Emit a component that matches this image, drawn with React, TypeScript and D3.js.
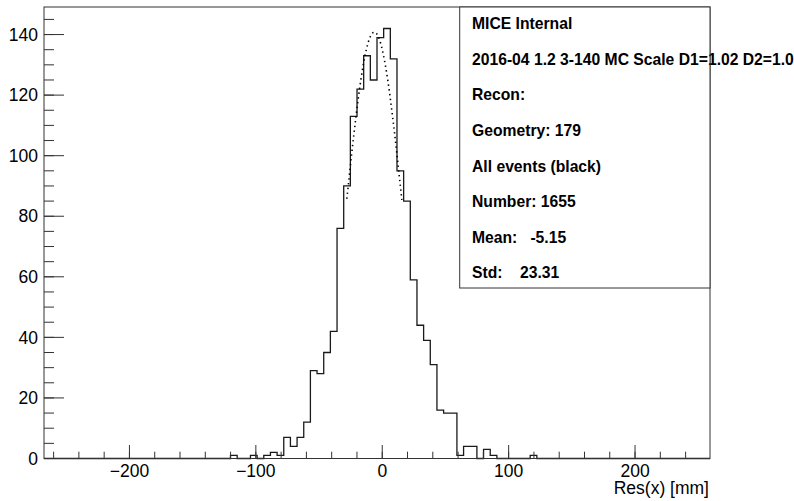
import React from "react";
import * as d3 from "d3";

// ---- data ----
const X_MIN = -267.6;
const X_MAX = 259.3;
const N_BINS = 100;
// bin counts (index 0..99)
const counts: number[] = [
  0, 0, 0, 0, 0, 0, 0, 0, 0, 0,
  0, 0, 0, 0, 0, 0, 0, 0, 0, 0,
  0, 0, 0, 0, 0, 0, 0, 0, 1, 0,
  0, 1, 0, 1, 2, 1, 7, 4, 7, 12,
  29, 28, 35, 42, 76, 90, 113, 122, 133, 125,
  139, 142, 132, 95, 85, 59, 44, 39, 31, 16,
  15, 15, 1, 4, 4, 0, 3, 1, 0, 0,
  0, 0, 0, 1, 0, 0, 0, 0, 0, 0,
  0, 0, 0, 0, 0, 0, 0, 0, 0, 0,
  0, 0, 0, 0, 0, 0, 0, 0, 0, 0,
];
const Y_MAX = 149.1;
const xMajorTicks = [-200, -100, 0, 100, 200];
const yMajorTicks = [0, 20, 40, 60, 80, 100, 120, 140];
// Gaussian fit drawn as dotted line
const FIT_AMP = 140.8;
const FIT_MEAN = -6.3;
const FIT_SIGMA = 21.8;
const FIT_RANGE = [-28, 15.5];
const statLines = [
  "MICE Internal",
  "2016-04 1.2 3-140 MC Scale D1=1.02 D2=1.02",
  "Recon:",
  "Geometry: 179",
  "All events (black)",
  "Number: 1655",
  "Mean:   -5.15",
  "Std:    23.31",
];
const xTitle = "Res(x) [mm]";

const W = 794;
const H = 501;
const FL = 44, FR = 710, FT = 7, FB = 458.5;
const FONT = "'Liberation Sans', Arial, Helvetica, sans-serif";
const AX = "#333";

export default function App() {
  const x = d3.scaleLinear().domain([X_MIN, X_MAX]).range([FL, FR]);
  const y = d3.scaleLinear().domain([0, Y_MAX]).range([FB, FT]);
  const bw = (X_MAX - X_MIN) / N_BINS;

  // step path
  const pts: [number, number][] = [[X_MIN, 0]];
  counts.forEach((c, i) => {
    pts.push([X_MIN + i * bw, c]);
    pts.push([X_MIN + (i + 1) * bw, c]);
  });
  pts.push([X_MAX, 0]);
  const stepPath = d3.line<[number, number]>().x((d) => x(d[0])).y((d) => y(d[1]))(pts) || "";

  const fitPts: [number, number][] = d3
    .range(FIT_RANGE[0], FIT_RANGE[1] + 0.001, 0.5)
    .map((v) => [v, FIT_AMP * Math.exp(-((v - FIT_MEAN) ** 2) / (2 * FIT_SIGMA ** 2))]);
  const fitPath = d3.line<[number, number]>().x((d) => x(d[0])).y((d) => y(d[1]))(fitPts) || "";

  const xMinor = d3.range(-260, 260, 20).filter((v) => v >= X_MIN && v <= X_MAX);
  const yMinor = d3.range(0, Y_MAX, 5);

  const boxL = 459.7, boxR = 710, boxT = 7, boxB = 288;
  const lineY0 = 29.3, lineStep = 35.57;

  return (
    <svg width={W} height={H} style={{ position: "absolute", left: 0, top: 0, background: "#fff" }} fontFamily={FONT}>
      <rect x={0} y={0} width={W} height={H} fill="#fff" />
      {/* histogram */}
      <path d={stepPath} fill="none" stroke="#1a1a1a" strokeWidth={1.3} />
      {/* fit */}
      <path d={fitPath} fill="none" stroke="#000" strokeWidth={1.6} strokeDasharray="1.4,3.4" />
      {/* frame */}
      <rect x={FL} y={FT} width={FR - FL} height={FB - FT} fill="none" stroke={AX} strokeWidth={1} />
      {/* x ticks */}
      {xMinor.map((v) => (
        <line key={"xm" + v} x1={x(v)} x2={x(v)} y1={FB} y2={FB - 6.8} stroke={AX} strokeWidth={1} />
      ))}
      {xMajorTicks.map((v) => (
        <g key={"xM" + v}>
          <line x1={x(v)} x2={x(v)} y1={FB} y2={FB - 13.5} stroke={AX} strokeWidth={1} />
          <text x={x(v)} y={477} fontSize={17.5} textAnchor="middle" fill="#000">
            {v < 0 ? "\u2212" + Math.abs(v) : String(v)}
          </text>
        </g>
      ))}
      {/* y ticks */}
      {yMinor.map((v) => (
        <line key={"ym" + v} x1={FL} x2={FL + 10} y1={y(v)} y2={y(v)} stroke={AX} strokeWidth={1} />
      ))}
      {yMajorTicks.map((v) => (
        <g key={"yM" + v}>
          <line x1={FL} x2={FL + 20} y1={y(v)} y2={y(v)} stroke={AX} strokeWidth={1} />
          <text x={38} y={y(v) + 6.2} fontSize={17.5} textAnchor="end" fill="#000">
            {String(v)}
          </text>
        </g>
      ))}
      <text x={709} y={494} fontSize={17.5} textAnchor="end" fill="#000">
        {xTitle}
      </text>
      {/* stats box */}
      <rect x={boxL} y={boxT} width={boxR - boxL} height={boxB - boxT} fill="#fff" />
      {statLines.map((s, i) => (
        <text
          key={"s" + i}
          x={472}
          y={lineY0 + i * lineStep}
          fontSize={15.7}
          fontWeight="bold"
          fill="#000"
          style={{ whiteSpace: "pre" }}
        >
          {s}
        </text>
      ))}
      <rect x={boxL} y={boxT} width={boxR - boxL} height={boxB - boxT} fill="none" stroke={AX} strokeWidth={1} />
    </svg>
  );
}
